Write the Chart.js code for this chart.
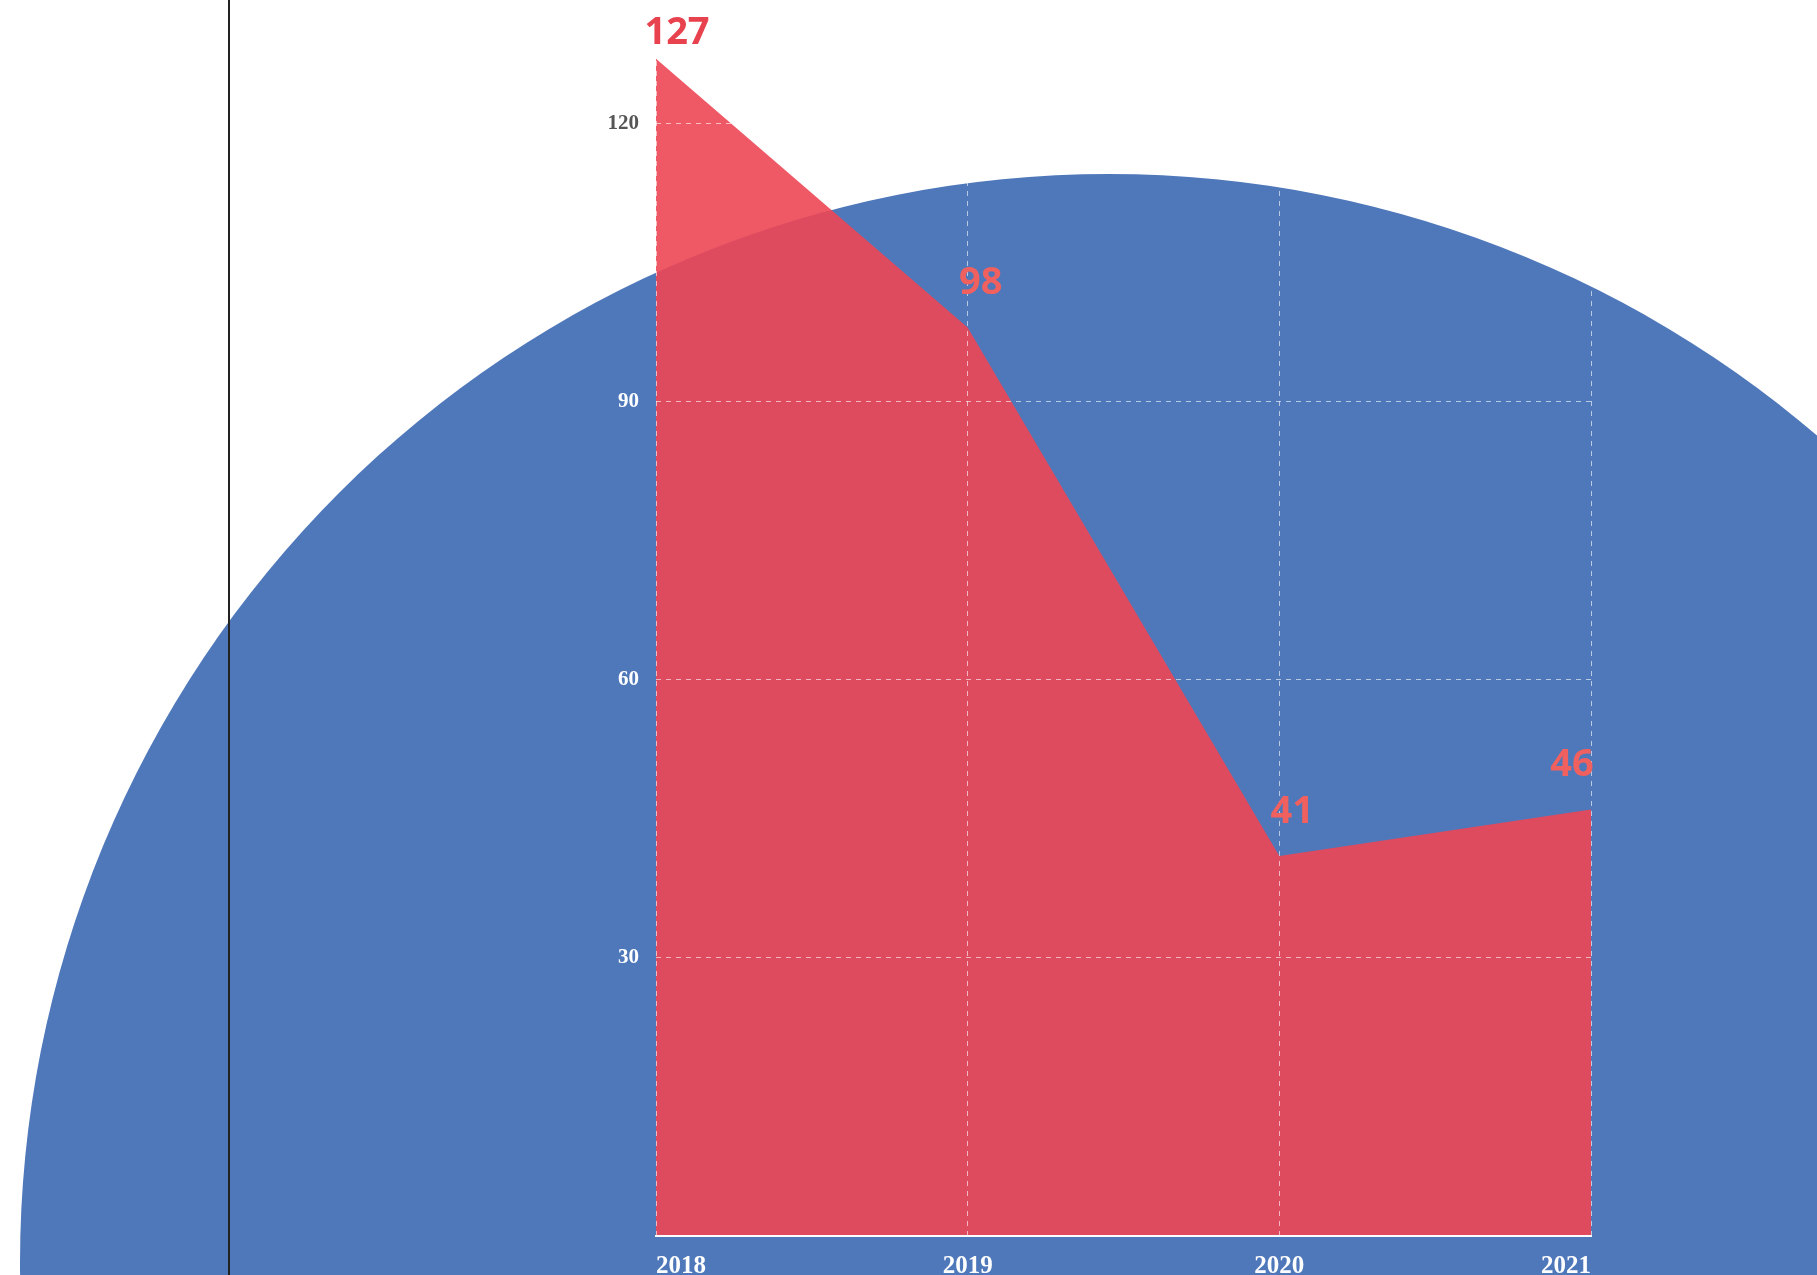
<!DOCTYPE html>
<html>
<head>
<meta charset="utf-8">
<script src="https://cdn.jsdelivr.net/npm/chart.js@4.4.1/dist/chart.umd.min.js"></script>
<style>
    html, body { margin: 0; padding: 0; background: #fff; overflow: hidden; }
    #wrap { position: relative; width: 1817px; height: 1275px; }
</style>
</head>
<body>
<div id="wrap"><canvas id="chart" width="1817" height="1275"></canvas></div>
<script>
// data
const years = ['2018', '2019', '2020', '2021'];
const values = [127, 98, 41, 46];
const yTicks = [30, 60, 90, 120];

// background decoration (big circle + thin black rule)
const circle = { x: 1109, y: 1263, r: 1089, color: '#4f78bb' };
const ruleX = 229;

function inCircle(x, y) {
    const dx = x - circle.x, dy = y - circle.y;
    return Math.sqrt(dx * dx + dy * dy) < circle.r;
}

const backdrop = {
    id: 'backdrop',
    beforeDraw(chart) {
        const ctx = chart.ctx;
        ctx.save();
        ctx.fillStyle = '#fff';
        ctx.fillRect(0, 0, chart.width, chart.height);
        ctx.beginPath();
        ctx.arc(circle.x, circle.y, circle.r, 0, Math.PI * 2);
        ctx.fillStyle = circle.color;
        ctx.fill();
        ctx.fillStyle = '#222';
        ctx.fillRect(ruleX - 1, 0, 2, chart.height);
        ctx.restore();
    }
};

const valueLabels = {
    id: 'valueLabels',
    afterDraw(chart) {
        const ctx = chart.ctx;
        const pts = chart.getDatasetMeta(0).data;
        ctx.save();
        ctx.font = 'bold 38px "Noto Sans", sans-serif';
        ctx.textAlign = 'center';
        ctx.textBaseline = 'middle';
        pts.forEach((p, i) => {
            let dx = 13;
            if (i === 0) dx = 21;
            if (i === pts.length - 1) dx = -19;
            const x = p.x + dx;
            const y = Math.max(p.y - 44, 33);
            ctx.fillStyle = inCircle(x, y) ? '#f0605e' : '#e8424f';
            ctx.fillText(String(values[i]), x, y);
        });
        ctx.restore();
    }
};

const gridColor = 'rgba(255,255,255,0.6)';

new Chart(document.getElementById('chart'), {
    type: 'line',
    data: {
        labels: years,
        datasets: [{
            data: values,
            fill: 'origin',
            backgroundColor: 'rgba(237,70,84,0.9)',
            borderWidth: 0,
            pointRadius: 0,
            tension: 0
        }]
    },
    options: {
        responsive: false,
        animation: false,
        layout: { padding: { left: 586, right: 226, top: 31, bottom: 0 } },
        plugins: { legend: { display: false }, tooltip: { enabled: false } },
        scales: {
            x: {
                offset: false,
                afterFit(scale) { scale.height = 39; },
                grid: { z: 1, color: gridColor, lineWidth: 1, drawTicks: false },
                border: { z: 1, display: true, color: '#fff', width: 2, dash: [5, 5] },
                ticks: {
                    z: 1,
                    align: 'inner',
                    padding: 16,
                    color: '#fff',
                    font: { family: '"Liberation Serif", serif', size: 25, weight: 'bold' }
                }
            },
            y: {
                min: 0,
                max: 130,
                afterFit(scale) { scale.width = 70; },
                afterBuildTicks(scale) { scale.ticks = yTicks.map(v => ({ value: v })); },
                grid: { z: 1, color: gridColor, lineWidth: 1, drawTicks: false },
                border: { z: 1, display: false, dash: [5, 5] },
                ticks: {
                    z: 1,
                    padding: 17,
                    font: { family: '"Liberation Serif", serif', size: 21, weight: 'bold' },
                    color(c) {
                        const s = c.chart.scales.y;
                        if (!s || !c.tick) return '#fff';
                        const y = s.getPixelForValue(c.tick.value);
                        return inCircle(s.right - 30, y) ? '#fff' : '#555';
                    }
                }
            }
        }
    },
    plugins: [backdrop, valueLabels]
});
</script>
</body>
</html>
